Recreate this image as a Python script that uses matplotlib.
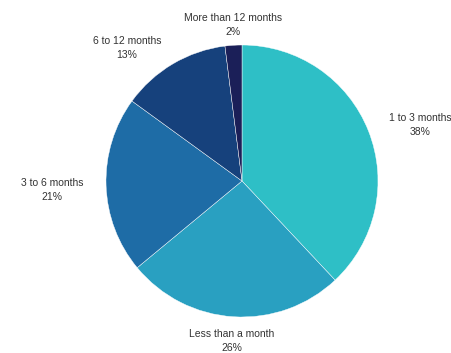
import matplotlib
matplotlib.use("Agg")
import matplotlib.pyplot as plt

categories = ["1 to 3 months", "Less than a month", "3 to 6 months", "6 to 12 months", "More than 12 months"]
values = [38, 26, 21, 13, 2]
colors = ["#2ebfc6", "#29a0c1", "#1e6ca6", "#16417c", "#1b1f58"]

# label anchor positions in pixel coords (layout only)
label_pos = [(420, 125), (232, 341), (52, 190), (127, 48), (233, 25)]

W, H = 452, 353
fig = plt.figure(figsize=(W / 100, H / 100), dpi=100)
ax = fig.add_axes([0, 0, 1, 1])

cx, cy, r = 242, H - 181, 136
ax.pie(values, colors=colors, startangle=90, counterclock=False,
       center=(cx, cy), radius=r, frame=True,
       wedgeprops=dict(edgecolor="white", linewidth=0.3))
ax.set_xlim(0, W)
ax.set_ylim(0, H)
ax.set_aspect("equal")
ax.axis("off")

for cat, val, (px, py) in zip(categories, values, label_pos):
    ax.text(px, H - py, f"{cat}\n{val}%", ha="center", va="center",
            fontsize=7.5, color="#333333", family="Liberation Sans",
            linespacing=1.5)

fig.savefig("out.png", dpi=100)
